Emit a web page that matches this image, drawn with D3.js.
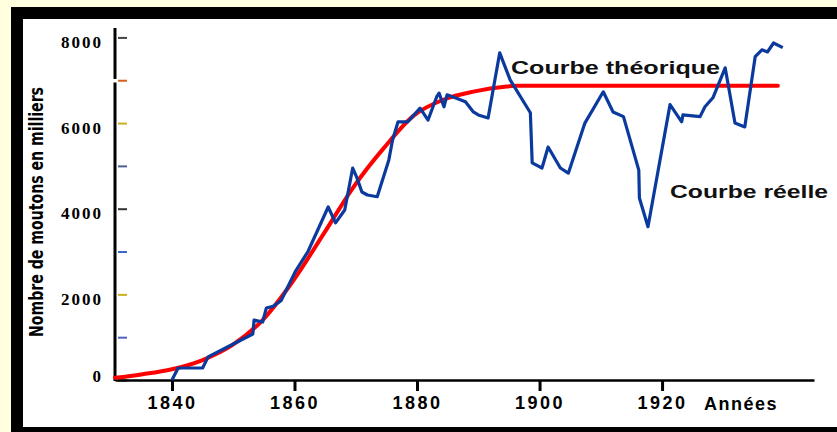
<!DOCTYPE html>
<html>
<head>
<meta charset="utf-8">
<script src="https://cdn.jsdelivr.net/npm/d3@7"></script>
<style>
  html, body { margin: 0; padding: 0; background: #FFFFE0; }
  svg { display: block; }
</style>
</head>
<body>
<svg id="chart" width="837" height="432"></svg>
<script>
// ---- data ----
const reelYears = [1840.0, 1841.0, 1845.0, 1845.9, 1848.9, 1853.2, 1853.4, 1854.8, 1855.4, 1856.5, 1857.8, 1860.2, 1862.2,
  1865.5, 1866.7, 1868.2, 1869.5, 1870.2, 1871.0, 1871.9, 1873.5, 1875.4, 1876.0, 1876.9, 1878.5, 1880.5, 1881.8,
  1883.2, 1883.6, 1884.4, 1884.9, 1885.9, 1887.9, 1889.2, 1890.0, 1891.6, 1893.5, 1895.2, 1898.5, 1898.8, 1900.4,
  1901.4, 1903.4, 1904.7, 1907.4, 1910.4, 1912.0, 1913.7, 1916.2, 1916.3, 1917.7, 1921.3, 1923.2, 1923.4, 1926.2,
  1927.0, 1928.3, 1930.3, 1931.9, 1933.5, 1935.2, 1936.3, 1937.2, 1938.2, 1939.7];
const reelValues = [0, 280, 280, 540, 760, 1075, 1400, 1355, 1680, 1720, 1850, 2550, 3000,
  4040, 3670, 3970, 4950, 4720, 4390, 4320, 4280, 5140, 5600, 6030, 6030, 6350, 6070,
  6610, 6700, 6380, 6660, 6610, 6500, 6260, 6190, 6120, 7640, 7010, 6240, 5070, 4950,
  5440, 4950, 4830, 6000, 6730, 6260, 6150, 4900, 4250, 3580, 6430, 6030, 6190, 6150,
  6380, 6590, 7290, 6000, 5910, 7550, 7710, 7660, 7870, 7760];

const theoYears = [1830.7, 1835.0, 1840.0, 1844.9, 1849.9, 1854.8, 1859.7, 1864.7, 1869.6, 1874.6, 1879.5, 1884.4, 1889.4, 1894.3, 1896.3, 1938.9];
const theoValues = [50, 130, 250, 460, 820, 1400, 2300, 3400, 4500, 5420, 6180, 6550, 6740, 6850, 6870, 6870];

const xTickValues = [1840, 1860, 1880, 1900, 1920];
const yTickValues = [0, 1000, 2000, 3000, 4000, 5000, 6000, 7000, 8000];
const yLabelValues = [0, 2000, 4000, 6000, 8000];

const labelTheo = "Courbe théorique";
const labelReel = "Courbe réelle";
const xTitle = "Années";
const yTitle = "Nombre de moutons en milliers";

// ---- layout ----
const svg = d3.select("#chart");
const W = 837, H = 432;

// background frame
svg.append("rect").attr("x", 0).attr("y", 0).attr("width", W).attr("height", H).attr("fill", "#FFFFE0");
svg.append("rect").attr("x", 11).attr("y", 7).attr("width", W).attr("height", H).attr("fill", "#000");
svg.append("rect").attr("x", 23).attr("y", 19).attr("width", W).attr("height", 408).attr("fill", "#fff");

const x = d3.scaleLinear().domain([1830.7, 1944.8]).range([115, 814]);
const y = d3.scaleLinear().domain([0, 8220]).range([380, 28]);

// x axis
const xAxis = d3.axisBottom(x).tickValues(xTickValues).tickSize(11).tickSizeOuter(0).tickPadding(5).tickFormat(d3.format("d"));
const gx = svg.append("g").attr("transform", "translate(0,380)").call(xAxis);
gx.select(".domain").attr("stroke", "#000").attr("stroke-width", 2.5);
gx.selectAll(".tick line").attr("stroke", "#000").attr("stroke-width", 3);
gx.selectAll(".tick text")
  .attr("fill", "#000")
  .style("font-family", "'Liberation Sans', Arial, sans-serif")
  .style("font-weight", "bold")
  .style("font-size", "18px")
  .style("letter-spacing", "2.5px");

svg.append("text")
  .attr("x", 704).attr("y", 410)
  .attr("fill", "#000")
  .style("font-family", "'Liberation Sans', Arial, sans-serif")
  .style("font-weight", "bold")
  .style("font-size", "18px")
  .style("letter-spacing", "1.5px")
  .text(xTitle);

// y axis
const tickColors = ["#000", "#5060c0", "#c8b020", "#3a68c8", "#333", "#505e98", "#c8b020", "#d86020", "#444"];
const yAxis = d3.axisLeft(y).tickValues(yTickValues).tickSize(-11).tickPadding(13)
  .tickFormat(d => yLabelValues.includes(d) ? String(d) : "");
const gy = svg.append("g").attr("transform", "translate(116,0)").call(yAxis);
gy.select(".domain").remove();
gy.selectAll(".tick line").attr("stroke", (d, i) => tickColors[i]).attr("stroke-width", 2)
  .attr("x1", 2);
gy.selectAll(".tick text")
  .attr("fill", "#000")
  .attr("dy", d => d === 0 ? "0.1em" : "0.6em")
  .style("font-family", "'Liberation Serif', 'Times New Roman', serif")
  .style("font-weight", "bold")
  .style("font-size", "17px")
  .style("letter-spacing", "2px");

// y axis line with its small break near 7000
svg.append("line").attr("x1", 115).attr("x2", 115).attr("y1", y(8220)).attr("y2", y(7030))
  .attr("stroke", "#000").attr("stroke-width", 3);
svg.append("line").attr("x1", 115).attr("x2", 115).attr("y1", y(6950)).attr("y2", y(0) + 1)
  .attr("stroke", "#000").attr("stroke-width", 3);

// y title
svg.append("text")
  .attr("transform", "translate(43,212) rotate(-90)")
  .attr("text-anchor", "middle")
  .attr("fill", "#000")
  .attr("textLength", 250)
  .attr("lengthAdjust", "spacingAndGlyphs")
  .style("font-family", "'Liberation Sans Narrow', 'DejaVu Sans Condensed', sans-serif")
  .style("font-weight", "bold")
  .style("font-size", "20px")
  .text(yTitle);

// curves
const theo = theoYears.map((t, i) => [t, theoValues[i]]);
const reel = reelYears.map((t, i) => [t, reelValues[i]]);
const line = d3.line().x(d => x(d[0])).y(d => y(d[1]));
const lineSmooth = d3.line().x(d => x(d[0])).y(d => y(d[1])).curve(d3.curveMonotoneX);

svg.append("path").attr("d", lineSmooth(theo))
  .attr("fill", "none").attr("stroke", "#FF0000").attr("stroke-width", 4)
  .attr("stroke-linecap", "round").attr("stroke-linejoin", "round");

svg.append("path").attr("d", line(reel))
  .attr("fill", "none").attr("stroke", "#0B3A9E").attr("stroke-width", 3.2)
  .attr("stroke-linejoin", "round");

// curve labels
svg.append("text")
  .attr("x", 511).attr("y", 74)
  .attr("fill", "#111")
  .attr("textLength", 209).attr("lengthAdjust", "spacingAndGlyphs")
  .style("font-family", "'Liberation Sans', Arial, sans-serif")
  .style("font-weight", "bold")
  .style("font-size", "19px")
  .text(labelTheo);

svg.append("text")
  .attr("x", 670).attr("y", 198)
  .attr("fill", "#111")
  .attr("textLength", 158).attr("lengthAdjust", "spacingAndGlyphs")
  .style("font-family", "'Liberation Sans', Arial, sans-serif")
  .style("font-weight", "bold")
  .style("font-size", "19px")
  .text(labelReel);
</script>
</body>
</html>
